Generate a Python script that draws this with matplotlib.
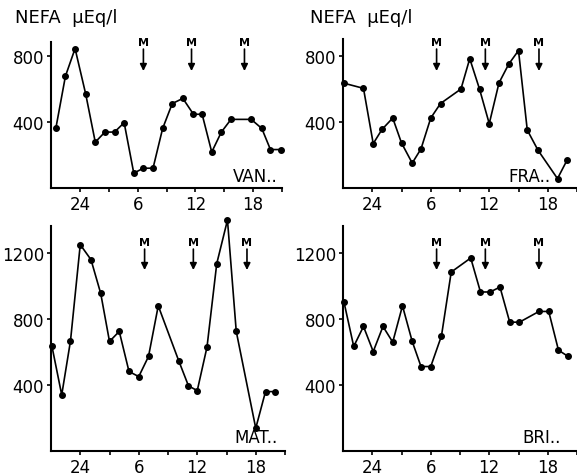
import numpy as np
import matplotlib
matplotlib.use("Agg")
import matplotlib.pyplot as plt

# hours (21 = 21:00 day 1, 45 = 21:00 day 2) and NEFA values (uEq/l)
van_h = [21.5, 22.5, 23.5, 24.6, 25.6, 26.6, 27.6, 28.6, 29.6, 30.6, 31.6, 32.6,
         33.6, 34.7, 35.8, 36.7, 37.7, 38.7, 39.7, 41.8, 42.9, 43.8, 44.9]
van_v = [361, 678, 845, 571, 278, 339, 339, 396, 90, 120, 120, 361,
         512, 543, 447, 447, 218, 339, 416, 416, 361, 233, 233]

fra_h = [21.1, 23.1, 24.1, 25.0, 26.1, 27.0, 28.1, 29.0, 30.0, 31.0, 33.1,
         34.0, 35.0, 36.0, 37.0, 38.0, 39.0, 39.9, 41.0, 43.0, 44.0]
fra_v = [635, 604, 269, 355, 424, 273, 151, 237, 424, 512, 600,
         784, 600, 390, 637, 751, 833, 351, 229, 57, 171]

mat_h = [21.1, 22.1, 23.0, 24.0, 25.1, 26.1, 27.0, 28.0, 29.0, 30.0, 31.0,
         32.0, 34.1, 35.1, 36.0, 37.0, 38.0, 39.1, 40.0, 42.0, 43.0, 44.0]
mat_v = [634, 340, 668, 1251, 1160, 955, 664, 725, 482, 451, 573,
         880, 547, 395, 366, 630, 1136, 1400, 725, 138, 360, 360]

bri_h = [21.1, 22.1, 23.1, 24.1, 25.1, 26.1, 27.1, 28.1, 29.0, 30.0, 31.1,
         32.1, 34.1, 35.1, 36.1, 37.1, 38.1, 39.1, 41.1, 42.1, 43.1, 44.1]
bri_v = [903, 634, 755, 603, 755, 660, 880, 664, 512, 512, 698,
         1085, 1170, 964, 964, 994, 781, 781, 846, 846, 611, 573]

meal_h = [30.6, 35.6, 41.1]
xtick_pos = [24, 27, 30, 33, 36, 39, 42, 45]
xtick_lab = ["24", "", "6", "", "12", "", "18", ""]

W, H = 577, 477
fig = plt.figure(figsize=(W / 100, H / 100), dpi=100)


def panel(px, py_top, py_bot, pw, ytop, hours, vals, yticks, name, name_pos, meal_y):
    ax = fig.add_axes([px / W, (H - py_bot) / H, pw / W, (py_bot - py_top) / H])
    ax.plot(hours, vals, "-o", color="black", lw=1.2, ms=4, clip_on=False)
    ax.set_xlim(21, 45)
    ax.set_ylim(0, ytop)
    ax.set_xticks(xtick_pos)
    ax.set_xticklabels(xtick_lab)
    ax.set_yticks(yticks)
    for s in ["top", "right"]:
        ax.spines[s].set_visible(False)
    for s in ["left", "bottom"]:
        ax.spines[s].set_linewidth(1.5)
    ax.tick_params(axis="both", direction="out", length=3, width=1.2, labelsize=12, pad=2)
    ax.text(name_pos[0], name_pos[1], name, transform=ax.transAxes, ha="right",
            va="bottom", fontsize=12)
    ty, y0, y1 = meal_y
    for m in meal_h:
        ax.text(m, ty, "M", ha="center", va="center", fontsize=8, fontweight="bold",
                clip_on=False)
        ax.annotate("", xy=(m, y1), xytext=(m, y0),
                    arrowprops=dict(arrowstyle="-|>", color="black", lw=1.2,
                                    mutation_scale=10, shrinkA=0, shrinkB=0))
    return ax


panel(51, 43, 189, 231, 885, van_h, van_v, [400, 800], "VAN..", (0.98, 0.02),
      (885, 842, 709))
panel(343, 40, 189, 234, 903, fra_h, fra_v, [400, 800], "FRA..", (0.885, 0.02),
      (885, 842, 709))
panel(51, 227, 452, 234, 1364, mat_h, mat_v, [400, 800, 1200], "MAT..", (0.97, 0.02),
      (1267, 1224, 1097))
panel(343, 227, 452, 234, 1364, bri_h, bri_v, [400, 800, 1200], "BRI..", (0.93, 0.02),
      (1267, 1224, 1097))

fig.text(15 / W, 1 - 18 / H, "NEFA  µEq/l", ha="left", va="center", fontsize=13)
fig.text(310 / W, 1 - 18 / H, "NEFA  µEq/l", ha="left", va="center", fontsize=13)

fig.savefig("out.png", dpi=100)
